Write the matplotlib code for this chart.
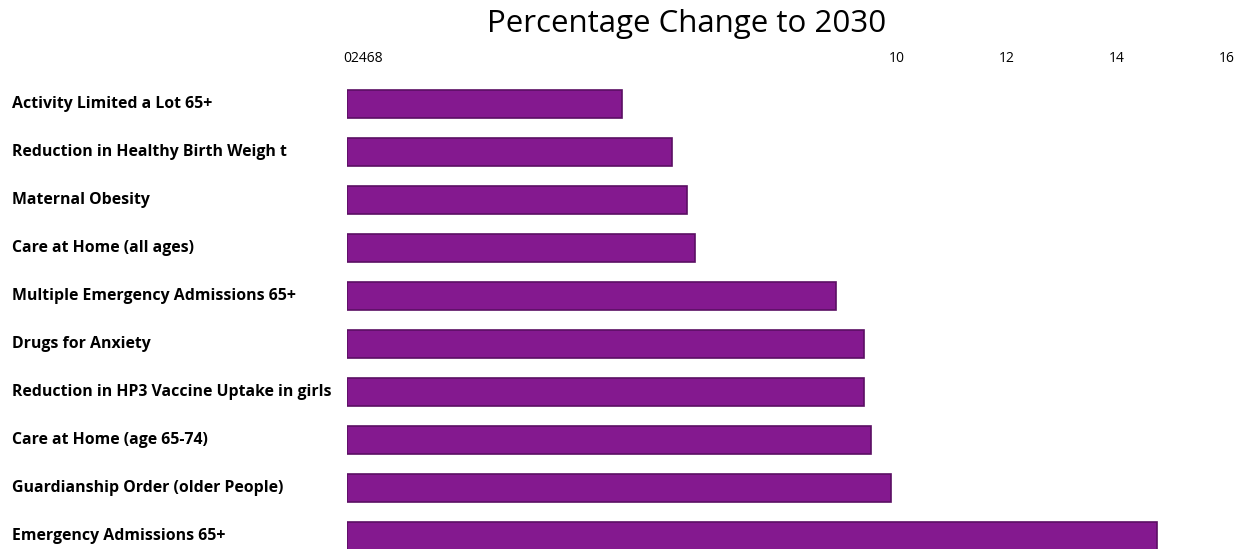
import matplotlib
matplotlib.use("Agg")
import matplotlib.pyplot as plt

categories = [
    "Activity Limited a Lot 65+",
    "Reduction in Healthy Birth Weigh t",
    "Maternal Obesity",
    "Care at Home (all ages)",
    "Multiple Emergency Admissions 65+",
    "Drugs for Anxiety",
    "Reduction in HP3 Vaccine Uptake in girls",
    "Care at Home (age 65-74)",
    "Guardianship Order (older People)",
    "Emergency Admissions 65+",
]
values = [5.0, 5.9, 6.18, 6.33, 8.89, 9.4, 9.4, 9.53, 9.89, 14.73]
upper_ticks = [10, 12, 14, 16]

plt.rcParams['font.family'] = ['Open Sans', 'DejaVu Sans']

W, H = 1254, 549
fig = plt.figure(figsize=(W / 100, H / 100), dpi=100)
ax = fig.add_axes([347 / W, 0, 1 - 347 / W, (549 - 70) / H])

y = list(range(len(categories)))
ax.barh(y, values, height=0.58, color="#84198f", edgecolor="#5b0f63", linewidth=1.2)

ax.set_xlim(0, (W - 347) / 55)
ax.set_ylim(9.27, -0.708)

ax.xaxis.tick_top()
ax.set_xticks(upper_ticks)
ax.set_xticklabels([str(t) for t in upper_ticks], fontsize=10)
ax.tick_params(axis="x", length=0, pad=3)
ax.set_yticks([])
for s in ax.spines.values():
    s.set_visible(False)

# the low tick labels, run together
ax.annotate("02468", xy=(0.3, 1), xycoords=("data", "axes fraction"),
            xytext=(0, 3), textcoords="offset points",
            fontsize=10, ha="center", va="bottom")

for yi, name in zip(y, categories):
    fig.text(12 / W, 1 - (104 + 48 * yi) / H, name, fontsize=11.4, fontweight="bold",
             ha="left", va="center")

fig.text(687 / W, 1 - 24 / H, "Percentage Change to 2030", fontsize=22.5,
         ha="center", va="center")

fig.savefig("out.png", dpi=100)
